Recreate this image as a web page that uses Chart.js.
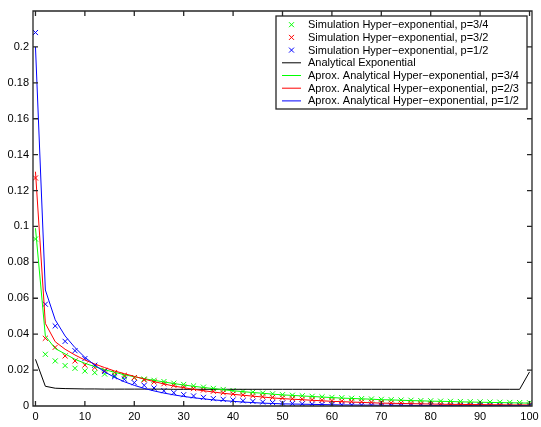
<!DOCTYPE html>
<html lang="en">
<head>
  <meta charset="UTF-8" />
  <title>Hyper-exponential</title>
  <script src="https://cdn.jsdelivr.net/npm/chart.js"></script>
  <style>
    body { margin: 0; background: #fff; }
  </style>
</head>
<body>
  <canvas id="chart" width="541" height="427"></canvas>
  <script>
    const xs = [0, 2, 4, 6, 8, 10, 12, 14, 16, 18, 20, 22, 24, 26, 28, 30, 32, 34, 36, 38, 40, 42, 44, 46, 48, 50,
      52, 54, 56, 58, 60, 62, 64, 66, 68, 70, 72, 74, 76, 78, 80, 82, 84, 86, 88, 90, 92, 94, 96, 98, 100];

    const xTicks = [0, 10, 20, 30, 40, 50, 60, 70, 80, 90, 100];
    const yTicks = [0, 0.02, 0.04, 0.06, 0.08, 0.1, 0.12, 0.14, 0.16, 0.18, 0.2];

    const simP34 = [0.093, 0.0288, 0.0251, 0.0225, 0.021, 0.0195, 0.0186, 0.0178, 0.0171, 0.0163, 0.0158, 0.015, 0.0143,
      0.0136, 0.0127, 0.012, 0.0112, 0.0105, 0.0098, 0.0092, 0.0086, 0.0081, 0.0077, 0.0072, 0.0068, 0.0063,
      0.006, 0.0057, 0.0054, 0.0051, 0.0048, 0.0046, 0.0043, 0.0041, 0.0039, 0.0037, 0.0035, 0.0033, 0.0032,
      0.003, 0.0029, 0.0027, 0.0026, 0.0025, 0.0024, 0.0023, 0.0022, 0.0021, 0.002, 0.0019, 0.0018];
    const simP32 = [0.127, 0.0377, 0.0327, 0.0279, 0.0251, 0.0228, 0.0214, 0.0199, 0.0186, 0.0171, 0.0158, 0.0145, 0.0134,
      0.0124, 0.0115, 0.0106, 0.0097, 0.0089, 0.0082, 0.0074, 0.0067, 0.0062, 0.0057, 0.0052, 0.0048, 0.0045,
      0.0041, 0.0038, 0.0035, 0.0032, 0.003, 0.0027, 0.0025, 0.0023, 0.0021, 0.0019, 0.0017, 0.0016, 0.0014,
      0.0013, 0.0012, 0.0011, 0.001, 0.0009, 0.0009, 0.0008, 0.0008, 0.0007, 0.0007, 0.0006, 0.0006];
    const simP12 = [0.208, 0.0567, 0.0446, 0.036, 0.0308, 0.0264, 0.0227, 0.0193, 0.0163, 0.0149, 0.013, 0.0115, 0.01,
      0.0085, 0.0074, 0.0063, 0.0056, 0.0048, 0.0041, 0.0037, 0.0033, 0.0029, 0.0026, 0.0022, 0.0019, 0.0016,
      0.0014, 0.0012, 0.001, 0.0009, 0.0008, 0.0007, 0.0006, 0.0005, 0.0005, 0.0004, 0.0004, 0.0003, 0.0003,
      0.0003, 0.0003, 0.0002, 0.0002, 0.0002, 0.0002, 0.0002, 0.0002, 0.0002, 0.0002, 0.0002, 0.0002];
    const analyticExp = [0.026, 0.011, 0.0099, 0.0097, 0.0096, 0.0095, 0.0095, 0.0094, 0.0094, 0.0094, 0.0094, 0.0094,
      0.0094, 0.0094, 0.0093, 0.0093, 0.0093, 0.0093, 0.0093, 0.0093, 0.0093, 0.0093, 0.0093, 0.0093, 0.0093,
      0.0093, 0.0093, 0.0093, 0.0093, 0.0093, 0.0093, 0.0093, 0.0093, 0.0093, 0.0093, 0.0093, 0.0093, 0.0093,
      0.0093, 0.0093, 0.0093, 0.0093, 0.0093, 0.0093, 0.0093, 0.0093, 0.0093, 0.0093, 0.0093, 0.0093, 0.019];
    const aproxP34 = [0.099, 0.039, 0.032, 0.029, 0.026, 0.0238, 0.0219, 0.0202, 0.0188, 0.0174, 0.0163, 0.0152, 0.0143,
      0.0134, 0.0125, 0.0117, 0.011, 0.0103, 0.0097, 0.0091, 0.0085, 0.008, 0.0075, 0.0071, 0.0066, 0.0062,
      0.0059, 0.0056, 0.0053, 0.005, 0.0047, 0.0044, 0.0042, 0.004, 0.0038, 0.0035, 0.0034, 0.0032, 0.003,
      0.0029, 0.0027, 0.0026, 0.0025, 0.0023, 0.0022, 0.0021, 0.002, 0.0019, 0.0018, 0.0017, 0.0016];
    const aproxP23 = [0.1305, 0.046, 0.0358, 0.0316, 0.0284, 0.0256, 0.0234, 0.0214, 0.0195, 0.018, 0.0165, 0.015, 0.0136,
      0.0123, 0.0111, 0.0102, 0.0093, 0.0085, 0.0078, 0.0071, 0.0065, 0.006, 0.0055, 0.005, 0.0045, 0.0041,
      0.0038, 0.0035, 0.0032, 0.0029, 0.0026, 0.0024, 0.0022, 0.002, 0.0018, 0.0016, 0.0015, 0.0014, 0.0013,
      0.0012, 0.0011, 0.001, 0.0009, 0.0009, 0.0008, 0.0008, 0.0007, 0.0007, 0.0006, 0.0006, 0.0006];
    const aproxP12 = [0.2, 0.0646, 0.048, 0.039, 0.0325, 0.0271, 0.0228, 0.019, 0.016, 0.0135, 0.0115, 0.0098, 0.0084,
      0.0072, 0.0062, 0.0053, 0.0046, 0.004, 0.0034, 0.003, 0.0026, 0.0022, 0.0019, 0.0016, 0.0014, 0.0012,
      0.0011, 0.001, 0.0009, 0.0008, 0.0007, 0.0006, 0.0006, 0.0005, 0.0005, 0.0004, 0.0004, 0.0004, 0.0003,
      0.0003, 0.0003, 0.0003, 0.0002, 0.0002, 0.0002, 0.0002, 0.0002, 0.0002, 0.0002, 0.0002, 0.0002];

    const FONT = '11px "Liberation Sans", Arial, sans-serif';

    function pts(ys) {
      return xs.map((x, i) => ({ x: x, y: ys[i] }));
    }

    function markers(label, ys, color, idx) {
      return {
        label: label,
        data: pts(ys),
        showLine: false,
        borderColor: color,
        backgroundColor: color,
        pointStyle: 'crossRot',
        pointRadius: 3.6,
        pointBorderWidth: 1,
        order: 10 - idx
      };
    }

    function line(label, ys, color, idx) {
      return {
        label: label,
        data: pts(ys),
        showLine: true,
        borderColor: color,
        backgroundColor: color,
        borderWidth: 1,
        pointRadius: 0,
        tension: 0,
        order: 10 - idx
      };
    }

    // box with inward ticks on all sides, taken from the scales
    const matlabAxes = {
      id: 'matlabAxes',
      afterDraw(chart) {
        const ctx = chart.ctx;
        const sx = chart.scales.x, sy = chart.scales.y;
        const L = Math.round(sx.left), R = Math.round(sx.right);
        const T = Math.round(sy.top), B = Math.round(sy.bottom);
        ctx.save();
        ctx.strokeStyle = '#262626';
        ctx.lineWidth = 1.3;
        ctx.beginPath();
        ctx.rect(L, T, R - L, B - T);
        xTicks.forEach(v => {
          const px = sx.getPixelForValue(v);
          ctx.moveTo(px, B); ctx.lineTo(px, B - 5);
          ctx.moveTo(px, T); ctx.lineTo(px, T + 5);
        });
        yTicks.forEach(v => {
          const py = sy.getPixelForValue(v);
          ctx.moveTo(L, py); ctx.lineTo(L + 5, py);
          ctx.moveTo(R, py); ctx.lineTo(R - 5, py);
        });
        ctx.stroke();
        ctx.restore();
      }
    };

    const boxLegend = {
      id: 'boxLegend',
      afterDraw(chart) {
        const ctx = chart.ctx;
        const lx = 276, ly = 16, lw = 251, lh = 93;
        ctx.save();
        ctx.fillStyle = '#fff';
        ctx.fillRect(lx, ly, lw, lh);
        ctx.strokeStyle = '#262626';
        ctx.lineWidth = 1.3;
        ctx.strokeRect(lx, ly, lw, lh);
        ctx.font = FONT;
        ctx.textBaseline = 'middle';
        chart.data.datasets.forEach((ds, i) => {
          const cy = 24.7 + i * 12.7;
          ctx.strokeStyle = ds.borderColor;
          ctx.lineWidth = 1;
          ctx.beginPath();
          if (ds.showLine) {
            ctx.moveTo(282, cy);
            ctx.lineTo(301, cy);
          } else {
            const r = 2.5;
            ctx.moveTo(291.5 - r, cy - r); ctx.lineTo(291.5 + r, cy + r);
            ctx.moveTo(291.5 - r, cy + r); ctx.lineTo(291.5 + r, cy - r);
          }
          ctx.stroke();
          ctx.fillStyle = '#000';
          ctx.fillText(ds.label, 308, cy + 0.5);
        });
        ctx.restore();
      }
    };

    new Chart(document.getElementById('chart'), {
      type: 'scatter',
      data: {
        datasets: [
          markers('Simulation Hyper\u2212exponential, p=3/4', simP34, '#00ff00', 0),
          markers('Simulation Hyper\u2212exponential, p=3/2', simP32, '#ff0000', 1),
          markers('Simulation Hyper\u2212exponential, p=1/2', simP12, '#0000ff', 2),
          line('Analytical Exponential', analyticExp, '#000000', 3),
          line('Aprox. Analytical Hyper\u2212exponential, p=3/4', aproxP34, '#00ff00', 4),
          line('Aprox. Analytical Hyper\u2212exponential, p=2/3', aproxP23, '#ff0000', 5),
          line('Aprox. Analytical Hyper\u2212exponential, p=1/2', aproxP12, '#0000ff', 6)
        ]
      },
      options: {
        responsive: false,
        animation: false,
        layout: { padding: { top: 11, right: 9, left: 0, bottom: 0 } },
        plugins: {
          legend: { display: false },
          tooltip: { enabled: false }
        },
        scales: {
          x: {
            type: 'linear',
            min: -0.5,
            max: 100.5,
            afterBuildTicks: s => { s.ticks = xTicks.map(v => ({ value: v })); },
            afterFit: s => { s.height = 21; s.paddingLeft = 0; s.paddingRight = 0; },
            grid: { display: false, drawTicks: false },
            border: { display: false },
            ticks: {
              color: '#000',
              font: { family: '"Liberation Sans", Arial, sans-serif', size: 11 },
              padding: 4,
              maxRotation: 0,
              callback: v => String(v)
            }
          },
          y: {
            type: 'linear',
            min: 0,
            max: 0.22,
            afterBuildTicks: s => { s.ticks = yTicks.map(v => ({ value: v })); },
            afterFit: s => { s.width = 33; s.paddingTop = 0; s.paddingBottom = 0; },
            grid: { display: false, drawTicks: false },
            border: { display: false },
            ticks: {
              color: '#000',
              font: { family: '"Liberation Sans", Arial, sans-serif', size: 11 },
              padding: 4,
              callback: v => String(+v.toFixed(2))
            }
          }
        }
      },
      plugins: [matlabAxes, boxLegend]
    });
  </script>
</body>
</html>
